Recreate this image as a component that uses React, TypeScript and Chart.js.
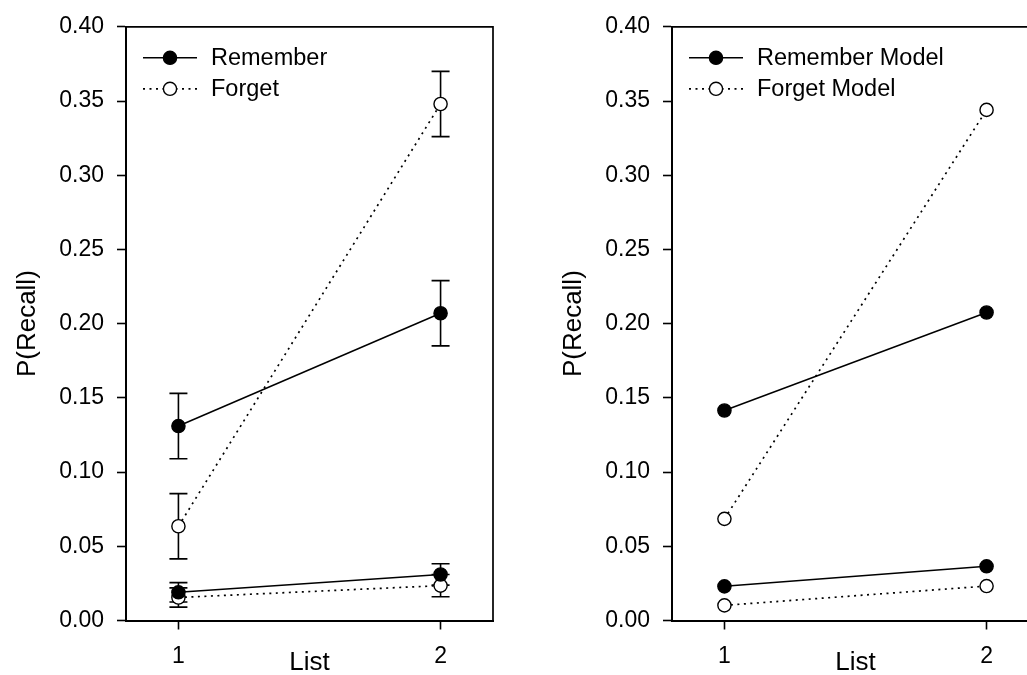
import React, { useEffect, useRef } from 'react';
import { Chart, registerables } from 'chart.js';
Chart.register(...registerables);

// ---- data ----
const listX = [1, 2];
const xTickLabels = ['1', '2'];
const yTickValues = [0, 0.05, 0.1, 0.15, 0.2, 0.25, 0.3, 0.35, 0.4];

// Left panel: observed data (with error bars)
const rememberObs = [0.131, 0.207];
const rememberObsErr = [0.022, 0.022];
const forgetObs = [0.0635, 0.348];
const forgetObsErr = [0.022, 0.022];
const rememberObsLow = [0.019, 0.031];
const rememberObsLowErr = [0.0065, 0.0072];
const forgetObsLow = [0.0155, 0.0235];
const forgetObsLowErr = [0.0065, 0.0075];

// Right panel: model predictions
const rememberModel = [0.1415, 0.2075];
const forgetModel = [0.0685, 0.344];
const rememberModelLow = [0.023, 0.0365];
const forgetModelLow = [0.0102, 0.0232];

const FONT = '"Liberation Sans", Arial, Helvetica, sans-serif';
const DOT = [2, 4.5];
const R = 6.6;

function series(values: number[], filled: boolean, dotted: boolean, label: string, legendText: string | null, errors: number[] | null) {
  return {
    label,
    legendText,
    errors,
    data: listX.map((x, i) => ({ x, y: values[i] })),
    borderColor: '#000',
    borderWidth: dotted ? 1.7 : 1.5,
    borderDash: dotted ? DOT : [],
    pointRadius: R,
    pointHoverRadius: R,
    pointBorderWidth: 1.4,
    pointBorderColor: '#000',
    pointBackgroundColor: filled ? '#000' : '#fff',
    showLine: true,
    tension: 0,
    filled,
    dotted,
  } as any;
}

const errorBarPlugin = {
  id: 'errorBarsCustom',
  beforeDatasetsDraw(chart: any) {
    const ctx = chart.ctx;
    const xs = chart.scales.x;
    const ys = chart.scales.y;
    ctx.save();
    ctx.strokeStyle = '#000';
    ctx.lineWidth = 1.6;
    chart.data.datasets.forEach((ds: any) => {
      if (!ds.errors) return;
      ds.data.forEach((p: any, i: number) => {
        const e = ds.errors[i];
        const px = xs.getPixelForValue(p.x);
        const top = ys.getPixelForValue(p.y + e);
        const bot = ys.getPixelForValue(p.y - e);
        ctx.beginPath();
        ctx.moveTo(px, top);
        ctx.lineTo(px, bot);
        ctx.moveTo(px - 9, top);
        ctx.lineTo(px + 9, top);
        ctx.moveTo(px - 9, bot);
        ctx.lineTo(px + 9, bot);
        ctx.stroke();
      });
    });
    ctx.restore();
  },
};

const framePlugin = {
  id: 'frameCustom',
  afterDraw(chart: any) {
    const { ctx, chartArea } = chart;
    ctx.save();
    ctx.strokeStyle = '#000';
    ctx.lineWidth = 1.7;
    ctx.beginPath();
    ctx.moveTo(chartArea.left, chartArea.top);
    ctx.lineTo(chartArea.right, chartArea.top);
    ctx.lineTo(chartArea.right, chartArea.bottom);
    ctx.stroke();
    ctx.restore();
  },
};

const legendPlugin = {
  id: 'legendCustom',
  afterDraw(chart: any) {
    const { ctx, chartArea } = chart;
    const entries = chart.data.datasets.filter((d: any) => d.legendText);
    ctx.save();
    entries.forEach((ds: any, i: number) => {
      const y = chartArea.top + 31 + i * 31;
      const x0 = chartArea.left + 17;
      const x1 = chartArea.left + 71;
      const xm = chartArea.left + 44;
      ctx.strokeStyle = '#000';
      ctx.lineWidth = ds.borderWidth;
      ctx.setLineDash(ds.borderDash || []);
      ctx.beginPath();
      ctx.moveTo(x0, y);
      ctx.lineTo(x1, y);
      ctx.stroke();
      ctx.setLineDash([]);
      ctx.beginPath();
      ctx.arc(xm, y, R, 0, Math.PI * 2);
      ctx.fillStyle = ds.filled ? '#000' : '#fff';
      ctx.fill();
      ctx.lineWidth = 1.4;
      ctx.stroke();
      ctx.fillStyle = '#000';
      ctx.font = `23.5px ${FONT}`;
      ctx.textAlign = 'left';
      ctx.textBaseline = 'middle';
      ctx.fillText(ds.legendText, chartArea.left + 85, y + 1);
    });
    ctx.restore();
  },
};

const CANVAS_H = 678;

function makeConfig(datasets: any[], rightPad: number) {
  const tickFont = { family: FONT, size: 23 };
  const titleFont = { family: FONT, size: 26 };
  return {
    type: 'scatter',
    data: { datasets },
    plugins: [errorBarPlugin, framePlugin, legendPlugin],
    options: {
      animation: false,
      responsive: false,
      events: [],
      layout: { padding: { top: 23.5, right: rightPad, bottom: 0, left: 0 } },
      plugins: { legend: { display: false }, tooltip: { enabled: false } },
      scales: {
        x: {
          type: 'linear',
          min: 0.8,
          max: 2.2,
          afterBuildTicks: (s: any) => {
            s.ticks = listX.map((v) => ({ value: v }));
          },
          afterFit: (s: any) => {
            s.height = CANVAS_H - 620.5;
          },
          ticks: {
            callback: (v: number) => xTickLabels[listX.indexOf(v)],
            font: tickFont,
            color: '#000',
            padding: 13,
            maxRotation: 0,
            autoSkip: false,
          },
          grid: { drawOnChartArea: false, drawTicks: true, tickLength: 9, tickColor: '#000', tickWidth: 1.6 },
          border: { display: true, color: '#000', width: 2 },
          title: { display: true, text: 'List', font: titleFont, color: '#000', padding: { top: 0, bottom: 0 } },
        },
        y: {
          type: 'linear',
          min: 0,
          max: 0.4,
          afterBuildTicks: (s: any) => {
            s.ticks = yTickValues.map((v) => ({ value: v }));
          },
          afterFit: (s: any) => {
            s.width = 126;
          },
          ticks: {
            callback: (v: number) => v.toFixed(2),
            font: tickFont,
            color: '#000',
            padding: 13,
            autoSkip: false,
          },
          grid: { drawOnChartArea: false, drawTicks: true, tickLength: 9, tickColor: '#000', tickWidth: 1.6 },
          border: { display: true, color: '#000', width: 2 },
          title: { display: true, text: 'P(Recall)', font: titleFont, color: '#000', padding: { top: 12, bottom: 0 } },
        },
      },
    },
  } as any;
}

function Panel({ left, width, datasets, rightPad }: { left: number; width: number; datasets: any[]; rightPad: number }) {
  const ref = useRef<HTMLCanvasElement | null>(null);
  useEffect(() => {
    if (!ref.current) return;
    const chart = new Chart(ref.current, makeConfig(datasets, rightPad));
    return () => chart.destroy();
  }, []);
  return (
    <canvas
      ref={ref}
      width={width}
      height={CANVAS_H}
      style={{ position: 'absolute', left, top: 0, width, height: CANVAS_H, display: 'block' }}
    />
  );
}

export default function App() {
  const leftSets = [
    series(rememberObs, true, false, 'Remember', 'Remember', rememberObsErr),
    series(forgetObs, false, true, 'Forget', 'Forget', forgetObsErr),
    series(rememberObsLow, true, false, 'Remember (low)', null, rememberObsLowErr),
    series(forgetObsLow, false, true, 'Forget (low)', null, forgetObsLowErr),
  ];
  const rightSets = [
    series(rememberModel, true, false, 'Remember Model', 'Remember Model', null),
    series(forgetModel, false, true, 'Forget Model', 'Forget Model', null),
    series(rememberModelLow, true, false, 'Remember Model (low)', null, null),
    series(forgetModelLow, false, true, 'Forget Model (low)', null, null),
  ];
  return (
    <div style={{ position: 'absolute', left: 0, top: 0, width: 1027, height: 675, overflow: 'hidden', background: '#fff' }}>
      <Panel left={0} width={513} datasets={leftSets} rightPad={20} />
      <Panel left={546} width={520} datasets={rightSets} rightPad={27} />
    </div>
  );
}
